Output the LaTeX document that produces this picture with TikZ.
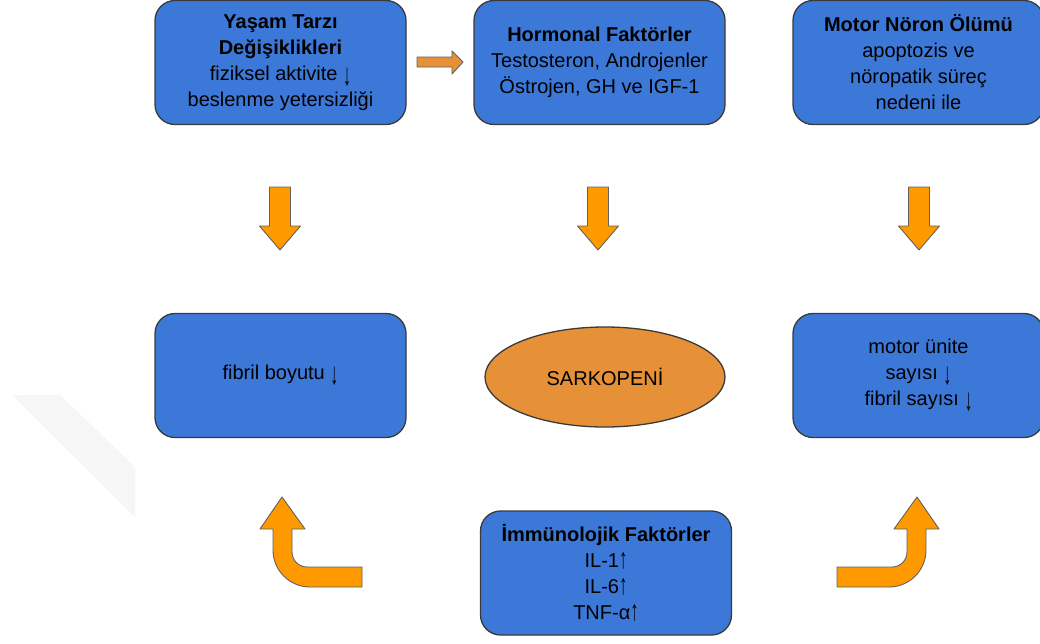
\documentclass[tikz,border=0pt]{standalone}
\usepackage{fontspec}
\setmainfont{Liberation Sans}
\usetikzlibrary{shapes.geometric}
\definecolor{boxblue}{HTML}{3C78D8}
\definecolor{arrorange}{HTML}{FF9900}
\definecolor{darkorange}{HTML}{E69138}
\definecolor{edgegray}{HTML}{3A3A3A}
% tall, narrow arrows used in the labels
\newcommand\dnarr{\raisebox{-0.26em}{\resizebox*{0.4em}{0.92em}{↓}}}
\newcommand\uparr{\raisebox{-0.02em}{\resizebox*{0.42em}{0.85em}{↑}}}
\tikzset{
  infobox/.style={draw=edgegray, line width=1.3pt, fill=boxblue, rounded corners=20pt,
    minimum width=251pt, minimum height=124pt, align=center, inner sep=0pt,
    font=\fontsize{20}{26}\selectfont},
  blockarrow/.style={draw=edgegray!80, line width=0.9pt, fill=arrorange, line join=round},
  downarr/.pic={
    \draw[blockarrow] (-10.5,0) -- (10.5,0) -- (10.5,39) -- (20.5,39) -- (0,63)
      -- (-20.5,39) -- (-10.5,39) -- cycle;
  }
}
\begin{document}
\begin{tikzpicture}[x=1pt,y=-1pt]
\useasboundingbox (0,0) rectangle (1040,643);
\clip (0,0) rectangle (1040,643);
\fill[white] (0,0) rectangle (1040,643);

% faint diagonal band in the lower left
\fill[gray!7] (12,395) -- (60,395) -- (135,467) -- (135,517) -- cycle;

% top row
\node[infobox] (life) at (280.5,62.5)
  {\textbf{Yaşam Tarzı}\\ \textbf{Değişiklikleri}\\ fiziksel aktivite \dnarr\\ beslenme yetersizliği};
\node[infobox] (horm) at (599.5,62.5)
  {\textbf{Hormonal Faktörler}\\ Testosteron, Androjenler\\ Östrojen, GH ve IGF-1};
\node[infobox] (motor) at (918.5,62.5)
  {\textbf{Motor Nöron Ölümü}\\ apoptozis ve\\ nöropatik süreç\\ nedeni ile};

% middle row
\node[infobox] (fibsize) at (280.5,375.5) {fibril boyutu \dnarr};
\node[draw=edgegray, line width=1.3pt, fill=darkorange, ellipse, minimum width=240pt,
  minimum height=100pt, inner sep=0pt, font=\fontsize{20}{26}\selectfont]
  (sarc) at (605,377) {SARKOPENİ};
\node[infobox] (units) at (918.5,375.5) {motor ünite\\ sayısı \dnarr\\ fibril sayısı \dnarr};

% bottom
\node[infobox] (immun) at (606,573)
  {\textbf{İmmünolojik Faktörler}\\ IL-1\uparr\\ IL-6\uparr\\ TNF-α\uparr};

% small arrow between the first two boxes
\draw[blockarrow, fill=darkorange] (417,57) -- (452,57) -- (452,51) -- (463,62)
  -- (452,74) -- (452,67) -- (417,67) -- cycle;

% downward block arrows
\pic at (280,187) {downarr};
\pic at (598,187) {downarr};
\pic at (919,187) {downarr};

% bent arrow, lower left
\draw[blockarrow] (282,497) -- (305,529) -- (292,529) -- (292,552)
  .. controls (292,560.3) and (298.7,567) .. (307,567) -- (362,567) -- (362,587)
  -- (310,587) .. controls (289.6,587) and (273,570.4) .. (273,550)
  -- (273,529) -- (260,529) -- cycle;

% bent arrow, lower right
\draw[blockarrow] (917,497) -- (894,529) -- (907,529) -- (907,552)
  .. controls (907,560.3) and (900.3,567) .. (892,567) -- (837,567) -- (837,587)
  -- (889,587) .. controls (909.4,587) and (926,570.4) .. (926,550)
  -- (926,529) -- (939,529) -- cycle;
\end{tikzpicture}
\end{document}
